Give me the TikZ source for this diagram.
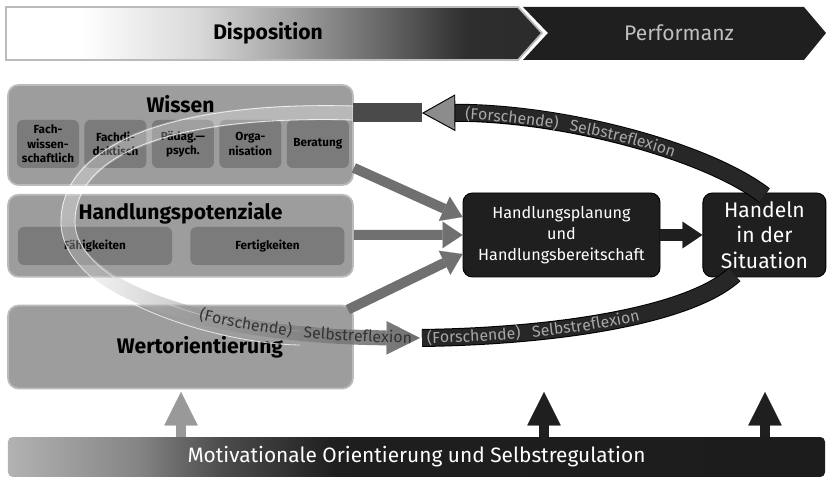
\documentclass[tikz,border=0pt]{standalone}
\usepackage{fontspec}
\setmainfont{Fira Sans}
\usetikzlibrary{arrows.meta,positioning,calc,decorations.text,fadings}

\definecolor{boxgray}{HTML}{9D9D9D}
\definecolor{boxline}{HTML}{BBBBBB}
\definecolor{subgray}{HTML}{7B7B7B}
\definecolor{nightgray}{HTML}{1F1F1F}
\definecolor{bandgray}{HTML}{272727}
\definecolor{bandtext}{HTML}{A8A8A8}
\definecolor{looptext}{HTML}{333333}
\definecolor{flowgray}{HTML}{707070}
\definecolor{headgray}{HTML}{8C8C8C}
\definecolor{loopgray}{HTML}{6A6A6A}
\definecolor{tailgray}{HTML}{4A4A4A}

\pgfdeclarehorizontalshading{dispshade}{100bp}{color(0bp)=(white); color(32bp)=(white); color(43bp)=(black!15); color(52bp)=(black!38); color(61bp)=(black!62); color(68bp)=(black!82); color(100bp)=(black!87)}
\pgfdeclarehorizontalshading{barshade}{100bp}{color(0bp)=(black!30); color(25bp)=(black!30); color(33bp)=(black!48); color(38bp)=(black!70); color(45bp)=(black!88); color(100bp)=(black!90)}
\tikzfading[name=loopfading, left color=transparent!100, right color=transparent!0]

\newcommand\bandfont{\fontsize{13.5}{15}\selectfont}

\begin{document}
\begin{tikzpicture}[
x=0.3mm, y=-0.3mm,
mainbox/.style={draw=boxline, line width=1.5pt, fill=boxgray, rounded corners=9pt, minimum width=103.5mm, inner sep=0pt},
subbox/.style={fill=subgray, rounded corners=5pt, minimum height=14.4mm, minimum width=18.6mm, inner sep=0pt, align=center, font=\fontsize{10}{12.5}\selectfont\bfseries},
skillbox/.style={fill=subgray, rounded corners=5pt, minimum height=11.4mm, minimum width=46.2mm, inner sep=0pt, font=\fontsize{10}{12}\selectfont\bfseries},
title/.style={font=\fontsize{18}{20}\selectfont\bfseries},
nightbox/.style={fill=nightgray, draw=black, line width=0.8pt, rounded corners=8pt, text=white, align=center, inner sep=0pt, minimum height=25.2mm},
flow/.style={draw=flowgray, line width=3mm, -{Triangle[width=8mm,length=6mm,line width=0.1pt]}},
upflow/.style={line width=3mm, -{Triangle[width=10mm,length=10mm,line width=0.1pt]}},
band/.style={draw=bandgray, line width=4.8mm},
bandrim/.style={draw=black, line width=5.4mm},
lightband/.style={draw=white, opacity=.28, line width=4.5mm},
lightrim/.style={draw=white, opacity=.75, line width=0.7pt},
alongtext/.style={decorate, decoration={text along path, raise=-4.5pt}}
]
\useasboundingbox (0,0) rectangle (827,477);

% banner
\draw[draw=boxline, line width=1.5pt, shade, shading=dispshade] (6,7) -- (518,7) -- (542,33) -- (518,60) -- (6,60) -- cycle;
\fill[nightgray] (523,7) -- (804,7) -- (826,33) -- (804,60) -- (523,60) -- (548,33) -- cycle;
\node[title] (dispo) at (268,33) {Disposition};
\node[font=\fontsize{18}{20}\selectfont, text=black!25] (perf) at (679,33) {Performanz};

% left column
\node[mainbox, minimum height=30mm] (wissen) at (180.5,135) {};
\node[mainbox, minimum height=24.6mm, below=2.4mm of wissen] (hpot) {};
\node[mainbox, minimum height=24.9mm, below=8.1mm of hpot] (wert) {};
\node[title] (wissenT) at ($(wissen.north)+(0,20)$) {Wissen};
\node[title] (hpotT) at ($(hpot.north)+(0,19)$) {Handlungspotenziale};
\node[title] (wertT) at ($(wert.center)+(19.5,0)$) {Wertorientierung};

\node[subbox] (fachwiss) at (48,144) {Fach-\\wissen-\\schaftlich};
\node[subbox, right=1.5mm of fachwiss] (fachdid) {Fachdi-\\daktisch};
\node[subbox, right=1.5mm of fachdid] (paedpsy) {Pädag.—\\psych.};
\node[subbox, right=1.5mm of paedpsy] (orga) {Orga-\\nisation};
\node[subbox, right=1.5mm of orga] (berat) {Beratung};
\node[skillbox] (faehig) at (95,246) {Fähigkeiten};
\node[skillbox, right=5.4mm of faehig] (fertig) {Fertigkeiten};

% right side
\node[nightbox, minimum width=59.1mm, font=\fontsize{13.8}{18}\selectfont] (plan) at (561.5,235) {Handlungsplanung\\und\\Handlungsbereitschaft};
\node[nightbox, minimum width=36.9mm, right=12.6mm of plan, font=\fontsize{18}{22}\selectfont] (handeln) {Handeln\\in der\\Situation};

\node[shade, shading=barshade, rounded corners=4pt, minimum width=245.1mm, minimum height=12mm, inner sep=0pt, text=white, font=\fontsize{17.8}{19}\selectfont] (motiv) at (416.5,457) {Motivationale Orientierung und Selbstregulation};

\coordinate (fbtop) at (422,113);
\coordinate (wtop) at (353,113);
\coordinate (lbmid) at (68,222);
\coordinate (lbtip) at (420,338);
\coordinate (fbbot) at (422,338);
\coordinate (up1) at (181,392);
\coordinate (up2) at (544,392);
\coordinate (up3) at (765,392);

% reflection loop
\draw[draw=tailgray, line width=5.7mm] (wtop) -- (fbtop);
\draw[lightband] (wtop) .. controls (170,108) and (68,150) .. (lbmid);
\draw[lightband, shorten >=9mm] (lbmid) .. controls (68,292) and (220,337) .. (lbtip);
\draw[lightrim] (353,106) .. controls (166,101) and (61,147) .. (61,222) .. controls (61,297) and (216,344) .. (300,345);
\draw[lightrim] (353,120) .. controls (174,115) and (75,153) .. (75,222) .. controls (75,287) and (224,330) .. (300,331);
\draw[draw=loopgray, line width=4.5mm, path fading=loopfading, -{Triangle[width=10mm,length=10mm,line width=0.1pt]}] (lbmid) .. controls (68,292) and (220,337) .. (lbtip);
\path[alongtext, decoration={text align={right, right indent=2.5mm}, text={|\bandfont\color{looptext}|(Forschende){\hskip10pt}Selbstreflexion}}] (lbmid) .. controls (68,292) and (220,337) .. (lbtip);

\draw[bandrim, shorten <=9mm] (fbtop) .. controls (560,112) and (705,150) .. ($(handeln.north)+(0,3)$);
\draw[band, {Triangle[width=11mm,length=10mm,line width=0.8pt,color=black,fill=headgray]}-] (fbtop) .. controls (560,112) and (705,150) .. ($(handeln.north)+(0,3)$);
\path[alongtext, decoration={text align={left indent=13mm}, text={|\bandfont\color{bandtext}|(Forschende){\hskip10pt}Selbstreflexion}}] (fbtop) .. controls (560,112) and (705,150) .. ($(handeln.north)+(0,3)$);

\draw[bandrim] (fbbot) .. controls (560,336) and (690,315) .. ($(handeln.south)+(-30,-3)$);
\draw[band] (fbbot) .. controls (560,336) and (690,315) .. ($(handeln.south)+(-30,-3)$);
\path[alongtext, decoration={text align={left indent=1.5mm}, text={|\bandfont\color{bandtext}|(Forschende){\hskip10pt}Selbstreflexion}}] (fbbot) .. controls (560,336) and (690,315) .. ($(handeln.south)+(-30,-3)$);

% arrows
\draw[flow] ($(wissen.south east)+(0,-18)$) -- ($(plan.west)+(0,-18)$);
\draw[flow] ($(hpot.east)+(0,-1)$) -- (plan.west);
\draw[flow] ($(wert.north east)+(-6,5)$) -- ($(plan.west)+(0,19)$);
\draw[draw=nightgray, line width=3.6mm, -{Triangle[width=8mm,length=6mm,line width=0.1pt]}] (plan) -- (handeln);

\draw[upflow, draw=black!40] (motiv.north -| up1) -- (up1);
\draw[upflow, draw=nightgray] (motiv.north -| up2) -- (up2);
\draw[upflow, draw=nightgray] (motiv.north -| up3) -- (up3);
\end{tikzpicture}
\end{document}
